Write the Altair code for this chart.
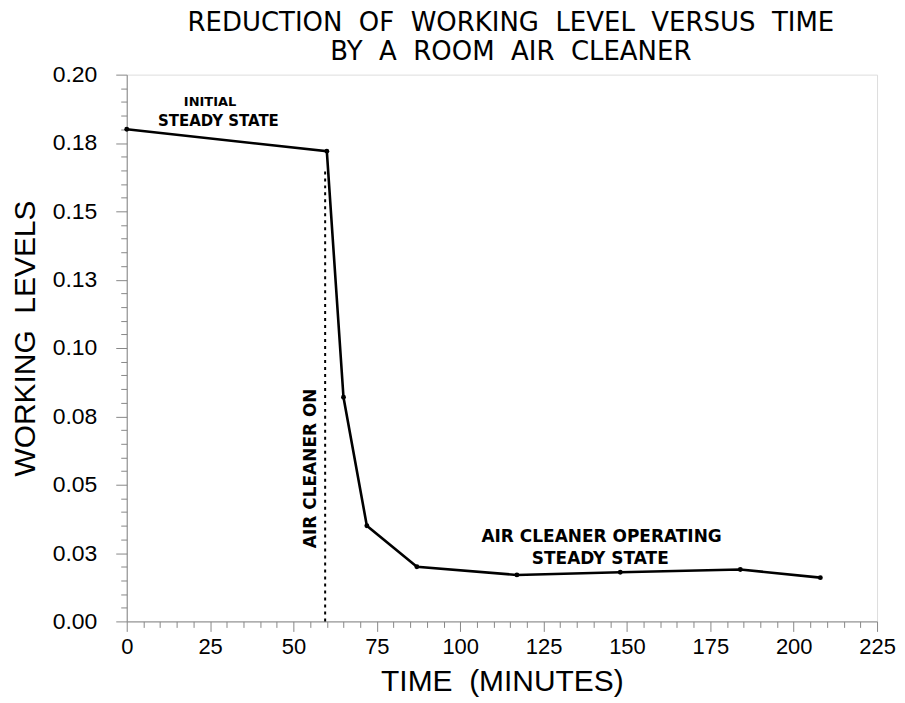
import altair as alt
import pandas as pd
import numpy as np

# ---- data ----
TIME_MIN = [0, 60, 65, 72, 87, 117, 148, 184, 208]
WORKING_LEVEL = [0.180, 0.172, 0.082, 0.035, 0.020, 0.017, 0.018, 0.019, 0.016]

AIR_ON_TIME = 59.5
AIR_ON_TOP = 0.165

Y_MAJOR_LABELS = ["0.00", "0.03", "0.05", "0.08", "0.10", "0.13", "0.15", "0.18", "0.20"]

NOTE_TEXT = ["INITIAL", "STEADY STATE", "AIR CLEANER OPERATING", "STEADY STATE"]
NOTE_T = [25.0, 27.5, 142.4, 142.0]
NOTE_V = [0.1900, 0.1830, 0.0308, 0.0228]
NOTE_SIZE = [13, 15, 17, 17]

VERT_TEXT = ["AIR CLEANER ON"]
VERT_T = [55.4]
VERT_V = [0.056]

TITLE_LINES = ["REDUCTION\u00a0 OF\u00a0 WORKING\u00a0 LEVEL\u00a0 VERSUS\u00a0 TIME",
               "BY\u00a0 A\u00a0 ROOM\u00a0 AIR\u00a0 CLEANER"]
X_TITLE = "TIME\u00a0 (MINUTES)"
Y_TITLE = "WORKING\u00a0 LEVELS"

FONT = "DejaVu Sans"

df = pd.DataFrame({"t": TIME_MIN, "v": WORKING_LEVEL})
notes = pd.DataFrame({"text": NOTE_TEXT, "t": NOTE_T, "v": NOTE_V, "size": NOTE_SIZE})
vert = pd.DataFrame({"text": VERT_TEXT, "t": VERT_T, "v": VERT_V})
rule_df = pd.DataFrame({"t": [AIR_ON_TIME], "v": [0.0], "v1": [AIR_ON_TOP]})

y_ticks = [float(round(v, 3)) for v in np.arange(0, 0.2001, 0.005)]
x_ticks = list(range(0, 226, 5))

y_major_test = "abs(datum.value/0.025 - round(datum.value/0.025)) < 1e-6"
x_major_test = "abs(datum.value % 25) < 1e-6"
y_label_arr = "[" + ",".join("'%s'" % s for s in Y_MAJOR_LABELS) + "]"
y_label_expr = f"{y_major_test} ? {y_label_arr}[round(datum.value/0.025)] : ''"
x_label_expr = f"{x_major_test} ? datum.label : ''"

x_scale = alt.Scale(domain=[0, 225], nice=False, zero=False)
y_scale = alt.Scale(domain=[0, 0.2], nice=False)

x_axis = alt.Axis(
    title=X_TITLE, values=x_ticks, format="d", labelExpr=x_label_expr,
    tickSize={"condition": {"test": x_major_test, "value": 10}, "value": 6},
    labelOverlap=False, labelFlush=False, labelBound=False,
    labelFontSize=22, titleFontSize=30, titleFontWeight="normal",
    labelPadding=5, titlePadding=9, grid=False,
)
y_axis = alt.Axis(
    title=Y_TITLE, values=y_ticks, labelExpr=y_label_expr,
    tickSize={"condition": {"test": y_major_test, "value": 11}, "value": 6},
    labelOverlap=False, labelFlush=False, labelBound=False,
    labelFontSize=23, titleFontSize=30, titleFontWeight="normal",
    labelPadding=19, titlePadding=12, titleY=264, grid=False,
)

X = alt.X("t:Q", scale=x_scale, axis=x_axis)
Y = alt.Y("v:Q", scale=y_scale, axis=y_axis)

line = alt.Chart(df).mark_line(color="black", strokeWidth=2.6).encode(x=X, y=Y)
pts = alt.Chart(df).mark_circle(color="black", size=24, opacity=1).encode(x=X, y=Y)
rule = alt.Chart(rule_df).mark_rule(color="black", strokeWidth=2, strokeDash=[3, 4]).encode(
    x=X, y=Y, y2="v1:Q"
)
note_marks = alt.Chart(notes).mark_text(font=FONT, color="black", fontWeight="bold").encode(
    x=X, y=Y, text="text:N",
    size=alt.Size("size:Q", scale=None, legend=None),
)
vert_marks = alt.Chart(vert).mark_text(font=FONT, color="black", fontWeight="bold",
                                       fontSize=17, angle=270).encode(
    x=X, y=Y, text="text:N"
)

chart = alt.layer(rule, line, pts, note_marks, vert_marks).properties(
    width=752, height=548,
    autosize=alt.AutoSizeParams(type="none"),
    padding={"left": 119, "top": 66, "right": 20, "bottom": 80},
    title=alt.TitleParams(
        text=TITLE_LINES,
        font=FONT, fontSize=26, fontWeight="normal", color="black",
        anchor="middle", lineHeight=29, offset=-1, dx=9,
    ),
).configure_view(stroke="black", strokeWidth=2.5).configure_axis(
    domainColor="black", domainWidth=2.5, tickColor="black", tickWidth=2,
    labelColor="black", titleColor="black", labelFont=FONT, titleFont=FONT,
).configure(background="white")

chart.save("out.html", embed_options={"renderer": "svg", "actions": False})
